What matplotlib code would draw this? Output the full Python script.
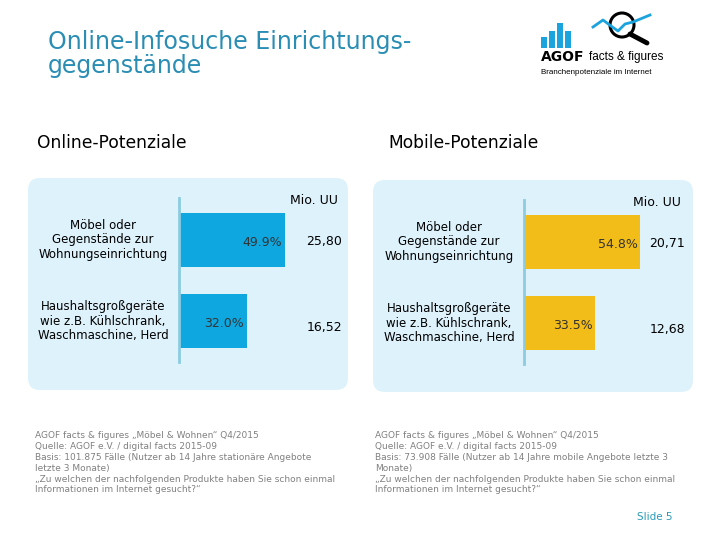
import matplotlib
matplotlib.use("Agg")
import matplotlib.pyplot as plt
from matplotlib.patches import FancyBboxPatch, Rectangle, Circle

# Data
categories = ["Möbel oder\nGegenstände zur\nWohnungseinrichtung",
              "Haushaltsgroßgeräte\nwie z.B. Kühlschrank,\nWaschmaschine, Herd"]
online_pct = [49.9, 32.0]
online_uu = ["25,80", "16,52"]
mobile_pct = [54.8, 33.5]
mobile_uu = ["20,71", "12,68"]

online_note = ("AGOF facts & figures „Möbel & Wohnen“ Q4/2015\n"
               "Quelle: AGOF e.V. / digital facts 2015-09\n"
               "Basis: 101.875 Fälle (Nutzer ab 14 Jahre stationäre Angebote\n"
               "letzte 3 Monate)\n"
               "„Zu welchen der nachfolgenden Produkte haben Sie schon einmal\n"
               "Informationen im Internet gesucht?“")
mobile_note = ("AGOF facts & figures „Möbel & Wohnen“ Q4/2015\n"
               "Quelle: AGOF e.V. / digital facts 2015-09\n"
               "Basis: 73.908 Fälle (Nutzer ab 14 Jahre mobile Angebote letzte 3\n"
               "Monate)\n"
               "„Zu welchen der nachfolgenden Produkte haben Sie schon einmal\n"
               "Informationen im Internet gesucht?“")

W, H = 720, 540
title_col = "#2a8db3"
panel_col = "#def2fc"
axis_col = "#8ccbe0"
blue = "#0ea7df"
yellow = "#f2bd18"
text_col = "#333333"
note_col = "#808080"

fig = plt.figure(figsize=(7.2, 5.4), dpi=100)
bg = fig.add_axes([0, 0, 1, 1])
bg.set_xlim(0, W)
bg.set_ylim(H, 0)
bg.axis("off")

# title
bg.text(48, 54, "Online-Infosuche Einrichtungs-\ngegenstände", fontsize=17,
        color=title_col, va="center", ha="left", linespacing=0.98)
bg.text(37, 143, "Online-Potenziale", fontsize=12.3, color="black", va="center")
bg.text(388, 143, "Mobile-Potenziale", fontsize=12.3, color="black", va="center")

# logo
for x0, top in zip([541, 549, 557, 565], [37, 31, 23, 31]):
    bg.add_patch(Rectangle((x0, top), 6, 48 - top, color="#1aa3dc", lw=0))
bg.plot([593, 603, 611, 618, 625, 633, 650], [27, 20, 26, 31, 24, 22, 15],
        color="#1aa3dc", lw=2)
bg.add_patch(Circle((622, 25), 12, fill=False, ec="black", lw=2.2))
bg.plot([630, 647], [34, 43], color="black", lw=3.5, solid_capstyle="round")
bg.text(541, 57, "AGOF", fontsize=10, fontweight="bold", va="center")
bg.text(589, 57, "facts & figures", fontsize=8.5, va="center", family="Liberation Sans")
bg.text(541, 72, "Branchenpotenziale im Internet", fontsize=5.8, va="center",
        family="Liberation Sans")

# panels
for x0, y0 in [(28, 178), (373, 180)]:
    bg.add_patch(FancyBboxPatch((x0 + 12, y0 + 12), 320 - 24, 212 - 24,
                                boxstyle="round,pad=12", fc=panel_col, ec="none"))

# notes
bg.text(35, 431, online_note, fontsize=6.5, color=note_col, va="top", linespacing=1.27)
bg.text(375, 431, mobile_note, fontsize=6.5, color=note_col, va="top", linespacing=1.27)
bg.text(637, 517, "Slide 5", fontsize=7.5, color="#2a9bb8", va="center")

px_per_pct = 2.12


def bar_panel(zero_x, top_y, pct, uu, color, label_x, uu_x):
    # axes covering bar area, y from top_y to top_y + 164 px
    width_px = 170
    ax = fig.add_axes([zero_x / W, 1 - (top_y + 164) / H, width_px / W, 164 / H])
    ax.set_xlim(0, width_px / px_per_pct)
    ax.set_ylim(1.5, -0.51)
    ax.patch.set_alpha(0)
    pos = list(range(len(pct)))
    ax.barh(pos, pct, height=0.66, color=color)
    for sp in ["top", "right", "bottom"]:
        ax.spines[sp].set_visible(False)
    ax.spines["left"].set_color(axis_col)
    ax.spines["left"].set_linewidth(2)
    ax.set_xticks([])
    ax.set_yticks([])
    for i, v in enumerate(pct):
        ax.text(v - 1.2, i + 0.03, f"{v:.1f}%", ha="right", va="center",
                fontsize=9, color=text_col)
    # category labels and values in figure pixel space
    for i, (cat, val) in enumerate(zip(categories, uu)):
        yc = ax.transData.transform((0, i))[1]
        ypx = H - yc
        bg.text(label_x, ypx, cat, ha="center", va="center", fontsize=8.5,
                color="black", linespacing=1.15)
        bg.text(uu_x, ypx + 2 + 4 * i, val, ha="center", va="center",
                fontsize=9, color="black")
    bg.text(uu_x - 10, top_y + 2, "Mio. UU", ha="center", va="center",
            fontsize=9, color="black")


bar_panel(179, 198, online_pct, online_uu, blue, 103, 324)
bar_panel(524, 200, mobile_pct, mobile_uu, yellow, 449, 667)

fig.savefig("out.png", dpi=100)
